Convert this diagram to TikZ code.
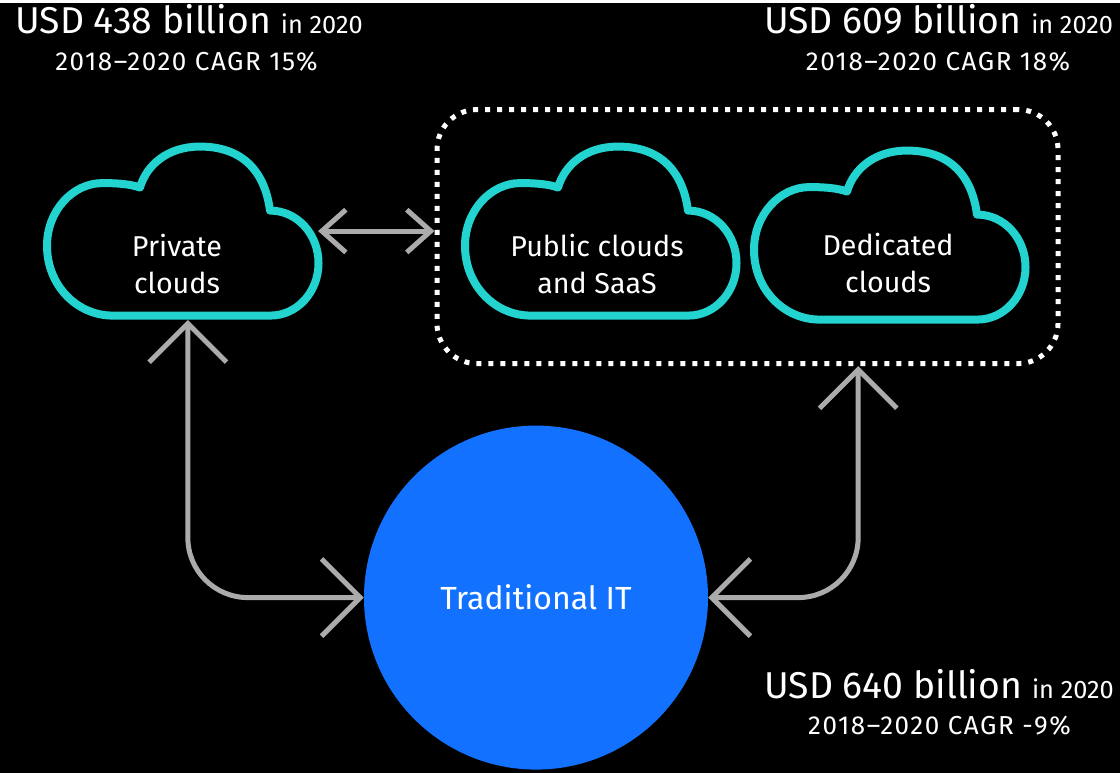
\documentclass[tikz,border=0pt]{standalone}
\usepackage{fontspec}
\setmainfont{Fira Sans}
\usetikzlibrary{arrows.meta}
\definecolor{itblue}{HTML}{1272FF}
\definecolor{cloudteal}{HTML}{22D3CF}
\definecolor{arrowgray}{HTML}{ABABAB}
\tikzset{
	cloudline/.style={draw=cloudteal, line width=6pt, line join=round},
	cloudbox/.style={minimum width=209pt, minimum height=133pt, inner sep=0pt},
	cloudtext/.style={text=white, align=center, font=\fontsize{21.5}{27.75}\selectfont},
	hybridbox/.style={draw=white, line width=3.75pt, dash pattern=on 3.75pt off 5.25pt,
		rounded corners=30pt, minimum width=465.75pt, minimum height=190.5pt},
	tradcircle/.style={circle, fill=itblue, text=white, minimum size=258pt, inner sep=0pt,
		font=\fontsize{24}{28}\selectfont},
	link/.style={draw=arrowgray, line width=3.75pt, rounded corners=45pt},
	bigbarbs/.style={<->, >={Straight Barb[length=29pt, width=58pt]}},
	smallbarbs/.style={<->, >={Straight Barb[length=18pt, width=32pt]}},
	valtext/.style={text=white, anchor=base, font=\fontsize{28}{32}\selectfont},
	cagrtext/.style={text=white, anchor=base,
		font=\fontsize{19.5}{22}\selectfont\addfontfeature{LetterSpace=6}},
	cloudpic/.pic={
		\draw[cloudline] (-70,84.5) -- (88,84.5)
			.. controls (114.5,84.5) and (136,61) .. (136,32)
			.. controls (136,3) and (114.5,-20.5) .. (87.5,-20.5)
			.. controls (82,-62) and (58,-84.5) .. (17.5,-84.5)
			.. controls (-15,-84.5) and (-36,-66) .. (-42.5,-43.5)
			.. controls (-52,-47) and (-65,-48) .. (-80,-48)
			.. controls (-110,-48) and (-135.5,-20) .. (-135.5,14.5)
			.. controls (-135.5,55) and (-105,84.5) .. (-70,84.5) -- cycle;
	}
}
\newcommand{\inyear}{{\fontsize{19}{22}\selectfont in 2020}}
\begin{document}
\begin{tikzpicture}[x=0.75pt, y=-0.75pt]
	\fill[black] (0,0) rectangle (1120,770);
	% clouds
	\node[cloudbox] (private) at (182.5,228.5) {};
	\node[cloudbox] (public) at (600.5,228.5) {};
	\node[cloudbox] (dedicated) at (889.5,232.5) {};
	\pic at (private) {cloudpic};
	\pic at (public) {cloudpic};
	\pic at (dedicated) {cloudpic};
	\node[cloudtext] (private-txt) at (177,261) {Private\\clouds};
	\node[cloudtext] (public-txt) at (597,261) {Public clouds\\and SaaS};
	\node[cloudtext] (dedicated-txt) at (888,260) {Dedicated\\clouds};
	\node[hybridbox] (hybrid) at (747.5,234) {};
	\node[tradcircle] (trad) at (536,595) {Traditional IT};
	% connectors
	\draw[link, smallbarbs] ([xshift=-3pt]private.east) -- (private.east -| hybrid.west);
	\draw[link, bigbarbs] ([xshift=4pt]private.south) |- (trad.west);
	\draw[link, bigbarbs] ([xshift=83pt]hybrid.south) |- (trad.east);
	% market figures
	\node[valtext] (private-val) at (189,31) {USD 438 billion \inyear};
	\node[cagrtext] (private-cagr) at (186.5,68) {2018–2020 CAGR 15\%};
	\node[valtext] (hybrid-val) at (938.5,31) {USD 609 billion \inyear};
	\node[cagrtext] (hybrid-cagr) at (938,68) {2018–2020 CAGR 18\%};
	\node[valtext] (trad-val) at (939,696) {USD 640 billion \inyear};
	\node[cagrtext] (trad-cagr) at (939.5,732) {2018–2020 CAGR -9\%};
\end{tikzpicture}
\end{document}
